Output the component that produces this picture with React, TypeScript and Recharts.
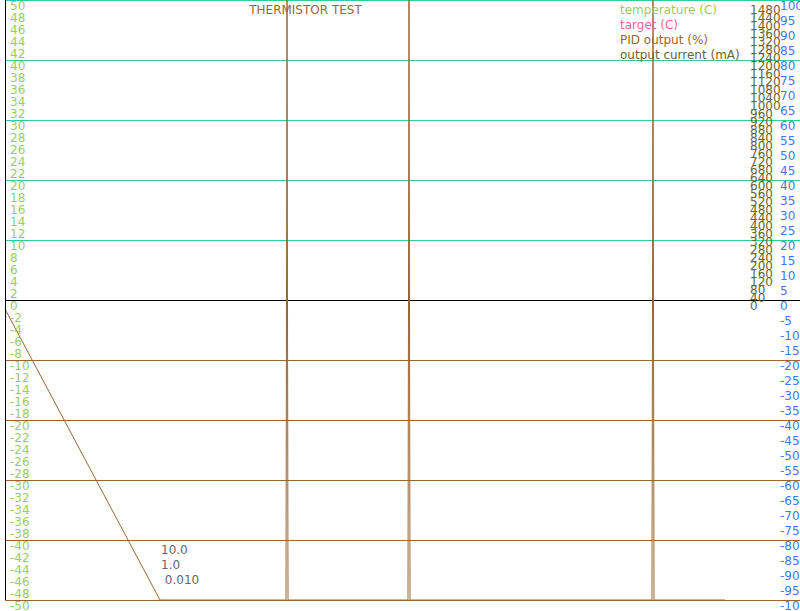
import React from 'react'
import { LineChart, Line, XAxis, YAxis, ReferenceLine } from 'recharts'

// PID output samples (time index, percent)
const pidTime = [0, 155, 281, 282, 283, 403, 404, 405, 647, 648, 649, 720]
const pidOutput = [-3, -100, -100, 100, -100, -100, 100, -100, -100, 100, -100, -100]

const gainLabels = ['10.0', '1.0', ' 0.010']

const seriesNames = ['temperature (C)', 'target (C)', 'PID output (%)', 'output current (mA)']
const seriesColors = ['#99cc66', '#ee6699', '#996633', '#666633']

const upperGrid = [50, 40, 30, 20, 10]
const lowerGrid = [-10, -20, -30, -40, -50]

const range = (from: number, to: number, step: number) => {
  const out: number[] = []
  for (let v = from; step > 0 ? v <= to : v >= to; v += step) out.push(v)
  return out
}

const tempTicks = range(50, -50, -2)
const currentTicks = range(0, 1480, 40)
const pidTicks = range(100, -100, -5)

const data = pidTime.map((t, i) => ({ t, pid: pidOutput[i] }))

const FONT = '"DejaVu Sans", sans-serif'

const makeTick = (left: number, color: string) => (props: any) => (
  <text x={left} y={props.y + 9.5} fill={color} fontSize={12} fontFamily={FONT} textAnchor="start">
    {props.payload.value}
  </text>
)

export default function App() {
  return (
    <div style={{ position: 'absolute', left: 0, top: 0, width: 800, height: 611, background: '#fff', overflow: 'hidden' }}>
      <LineChart width={800} height={611} data={data} margin={{ top: 0, right: -2, bottom: 11, left: 0 }}>
        <XAxis dataKey="t" type="number" domain={[0, 795]} hide />
        <YAxis
          yAxisId="temp"
          orientation="left"
          width={5}
          domain={[-50, 50]}
          ticks={tempTicks}
          interval={0}
          allowDataOverflow
          axisLine={{ stroke: '#000', shapeRendering: 'crispEdges' }}
          tickLine={false}
          tick={makeTick(10, '#99cc66')}
        />
        <YAxis
          yAxisId="current"
          orientation="right"
          width={1}
          domain={[-1500, 1500]}
          ticks={currentTicks}
          interval={0}
          allowDataOverflow
          axisLine={false}
          tickLine={false}
          tick={makeTick(750, '#666633')}
        />
        <YAxis
          yAxisId="pid"
          orientation="right"
          width={1}
          domain={[-100, 100]}
          ticks={pidTicks}
          interval={0}
          allowDataOverflow
          axisLine={false}
          tickLine={false}
          tick={makeTick(780, '#4477ee')}
        />
        {upperGrid.map((v) => (
          <ReferenceLine key={v} yAxisId="temp" y={v} stroke="#33cc99" shapeRendering="crispEdges" />
        ))}
        <ReferenceLine yAxisId="temp" y={0} stroke="#000" shapeRendering="crispEdges" />
        {lowerGrid.map((v) => (
          <ReferenceLine key={v} yAxisId="temp" y={v} stroke="#996633" shapeRendering="crispEdges" />
        ))}
        <Line
          yAxisId="pid"
          dataKey="pid"
          type="linear"
          stroke="#996633"
          strokeWidth={1}
          dot={false}
          isAnimationActive={false}
        />
      </LineChart>
      <div
        style={{
          position: 'absolute', top: 3, left: 620, fontFamily: FONT, fontSize: 12, lineHeight: '15px',
        }}
      >
        {seriesNames.map((name, i) => (
          <div key={name} style={{ color: seriesColors[i] }}>{name}</div>
        ))}
      </div>
      <div
        style={{
          position: 'absolute', top: 3, left: 230, width: 151, textAlign: 'center',
          fontFamily: FONT, fontSize: 12, lineHeight: '15px', color: '#996633', whiteSpace: 'nowrap',
        }}
      >
        THERMISTOR TEST
      </div>
      <div
        style={{
          position: 'absolute', top: 543, left: 161, fontFamily: FONT, fontSize: 12,
          lineHeight: '15px', color: '#666666', whiteSpace: 'pre',
        }}
      >
        {gainLabels.map((g) => (
          <div key={g}>{g}</div>
        ))}
      </div>
    </div>
  )
}
